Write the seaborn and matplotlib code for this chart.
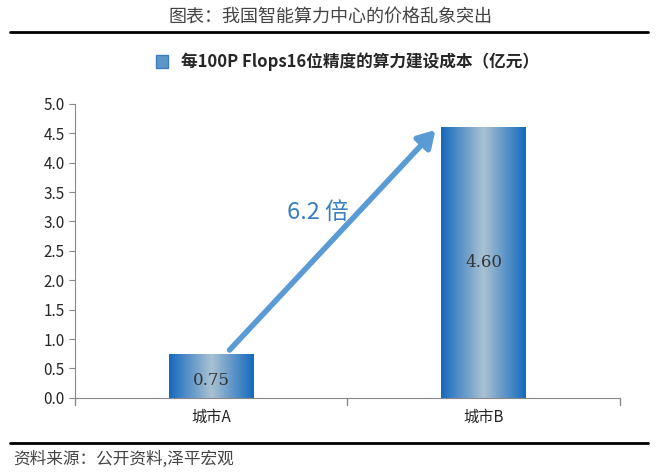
import matplotlib
matplotlib.use("Agg")
import matplotlib.pyplot as plt
import numpy as np
import pandas as pd
import seaborn as sns
from matplotlib.colors import LinearSegmentedColormap
from matplotlib.patches import Patch

cities = ["城市A", "城市B"]
costs = [0.75, 4.60]
yticks = [0.0, 0.5, 1.0, 1.5, 2.0, 2.5, 3.0, 3.5, 4.0, 4.5, 5.0]

sns.set_style("white")
plt.rcParams["font.family"] = ["Noto Sans CJK SC", "DejaVu Sans"]

fig = plt.figure(figsize=(6.6, 4.72), dpi=100)
ax = fig.add_axes([0.114, 0.157, 0.825, 0.623])

df = pd.DataFrame({"city": cities, "cost": costs})
sns.barplot(data=df, x="city", y="cost", ax=ax, width=0.31, color="#2f7fc7")

grad = LinearSegmentedColormap.from_list("g", ["#1569bd", "#a9c2d3", "#1569bd"])
ramp = np.linspace(0, 1, 256).reshape(1, -1)
for bar, v in zip(ax.patches, costs):
    x0, w, h = bar.get_x(), bar.get_width(), bar.get_height()
    im = ax.imshow(ramp, cmap=grad, extent=[x0, x0 + w, 0, h], aspect="auto", zorder=2)
    im.set_clip_path(bar)
    ax.text(x0 + w / 2, h / 2 if h > 2 else h * 0.4, f"{v:.2f}", ha="center", va="center",
            fontsize=12, family="DejaVu Serif", color="#333333", zorder=3)

ax.set_xlim(-0.5, 1.5)
ax.set_ylim(0, 5.0)
ax.set_yticks(yticks)
ax.set_yticklabels([f"{t:.1f}" for t in yticks], fontsize=11)
ax.tick_params(axis="x", labelsize=11, length=0, pad=8)
ax.tick_params(axis="y", length=4, color="#888888", left=True)
ax.set_xlabel("")
ax.set_ylabel("")
for s in ["top", "right"]:
    ax.spines[s].set_visible(False)
for s in ["left", "bottom"]:
    ax.spines[s].set_color("#888888")
for xv in [-0.5, 0.5, 1.5]:
    ax.plot([xv, xv], [0, -0.12], color="#888888", lw=1, clip_on=False)

ax.annotate("", xy=(0.83, 4.59), xytext=(0.06, 0.78),
            arrowprops=dict(arrowstyle="-|>,head_length=1.0,head_width=0.6", color="#5b9bd5", lw=4),
            zorder=4)
ax.text(0.39, 3.16, "6.2 倍", fontsize=17, color="#3a7ec1", ha="center", va="center")

ax.legend(handles=[Patch(facecolor="#5d97c9", edgecolor="#3a7ec1")],
          labels=["每100P Flops16位精度的算力建设成本（亿元）"],
          loc="lower center", bbox_to_anchor=(0.5, 1.06), frameon=False,
          prop={"weight": "bold", "size": 12}, handlelength=0.7, handleheight=0.9)

fig.text(0.5, 0.962, "图表：我国智能算力中心的价格乱象突出", ha="center", va="center",
         fontsize=13, color="#444444")
fig.add_artist(plt.Line2D([0.015, 0.982], [0.932, 0.932], color="black", lw=2))
fig.add_artist(plt.Line2D([0.015, 0.982], [0.062, 0.062], color="black", lw=2))
fig.text(0.02, 0.027, "资料来源：公开资料,泽平宏观", ha="left", va="center",
         fontsize=12, style="italic", color="#444444")

fig.savefig("out.png", dpi=100)
